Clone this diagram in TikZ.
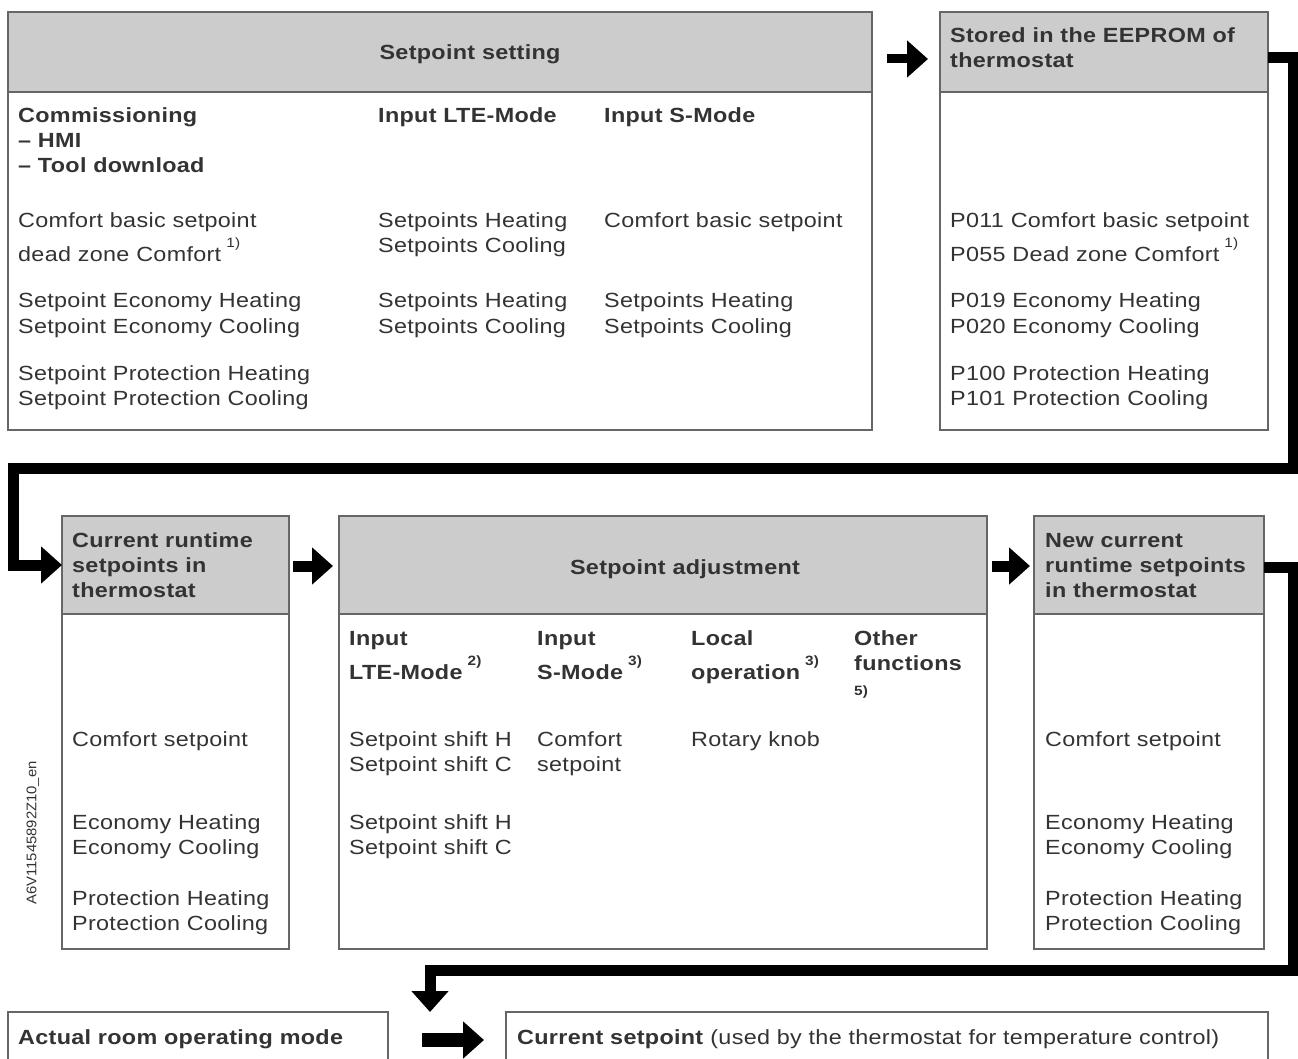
\documentclass[tikz,border=0pt]{standalone}
\usepackage{fontspec}
\setmainfont{Liberation Sans}[FakeStretch=1.14,LetterSpace=1.5]
\newfontfamily\idfont{Liberation Sans}[FakeStretch=1.06]
\usetikzlibrary{arrows.meta,calc}
\definecolor{txt}{HTML}{333333}
\definecolor{hdr}{HTML}{CCCCCC}
\definecolor{frame}{HTML}{666666}
\newcommand{\fn}[1]{\hspace{5pt}\raisebox{14pt}{\fontsize{13.5}{13.5}\selectfont #1}}
\tikzset{
  panel/.style={draw=frame,line width=1.4pt,fill=white,anchor=north west,inner sep=0pt,outer sep=0pt},
  headbox/.style={draw=frame,line width=1.4pt,fill=hdr,anchor=north west,inner sep=0pt,outer sep=0pt},
  txtn/.style={anchor=base west,inner sep=0pt,text=txt,font=\fontsize{20.5}{25}\selectfont},
  boldn/.style={anchor=base west,inner sep=0pt,text=txt,font=\fontsize{20.5}{25}\selectfont\bfseries},
  flow/.style={line width=11pt,draw=black,line join=miter,-{Triangle[width=36pt,length=21pt]}},
}
\begin{document}
\begin{tikzpicture}[x=1pt,y=-1pt]
\useasboundingbox (0,0) rectangle (1298,1059);
\clip (0,0) rectangle (1298,1059);
% ---------- boxes
\node[panel,minimum width=864pt,minimum height=418pt] (set) at (8,12) {};
\node[headbox,minimum width=864pt,minimum height=80pt] (seth) at (8,12) {};
\node[panel,minimum width=328pt,minimum height=418pt] (ee) at (940,12) {};
\node[headbox,minimum width=328pt,minimum height=80pt] (eeh) at (940,12) {};
\node[panel,minimum width=227pt,minimum height=433pt] (cr) at (62,516) {};
\node[headbox,minimum width=227pt,minimum height=98pt] (crh) at (62,516) {};
\node[panel,minimum width=648pt,minimum height=433pt] (adj) at (339,516) {};
\node[headbox,minimum width=648pt,minimum height=98pt] (adjh) at (339,516) {};
\node[panel,minimum width=230pt,minimum height=433pt] (nw) at (1034,516) {};
\node[headbox,minimum width=230pt,minimum height=98pt] (nwh) at (1034,516) {};
\node[panel,minimum width=380pt,minimum height=80pt] (act) at (8,1012) {};
\node[panel,minimum width=762pt,minimum height=80pt] (cur) at (506,1012) {};
% ---------- connectors
\coordinate (r1) at (1293,468);
\coordinate (l1) at (13,468);
\coordinate (r2) at (1293,970);
\coordinate (l2) at (430,970);
\coordinate (dn) at (430,1012);
\draw[flow,line width=9pt] ($(seth.east)+(15,7)$) -- ($(eeh.west)+(-12,7)$);
\draw[flow] ($(eeh.east)+(0,6)$) -| (r1) -- (l1) |- (crh.west);
\draw[flow] ($(crh.east)+(4,1)$) -- ($(adjh.west)+(-6,1)$);
\draw[flow] ($(adjh.east)+(5,1)$) -- ($(nwh.west)+(-4,1)$);
\draw[flow] ($(nwh.east)+(0,2)$) -| (r2) -- (l2) -- (dn);
\draw[flow,line width=14pt] ($(act.north east)+(34,28)$) -- ($(cur.north west)+(-22,28)$);
% ---------- box 1
\node[boldn,anchor=base] (t1) at (470,60) {Setpoint setting};
\node[boldn] (t2) at (18,123) {Commissioning};
\node[boldn] (t3) at (18,148) {– HMI};
\node[boldn] (t4) at (18,173) {– Tool download};
\node[boldn] (t5) at (378,123) {Input LTE-Mode};
\node[boldn] (t6) at (604,123) {Input S-Mode};
\node[txtn] (t7) at (18,228) {Comfort basic setpoint};
\node[txtn] (t8) at (18,262) {dead zone Comfort\fn{1)}};
\node[txtn] (t9) at (18,308) {Setpoint Economy Heating};
\node[txtn] (t10) at (18,333) {Setpoint Economy Cooling};
\node[txtn] (t11) at (18,380) {Setpoint Protection Heating};
\node[txtn] (t12) at (18,405) {Setpoint Protection Cooling};
\node[txtn] (t13) at (378,228) {Setpoints Heating};
\node[txtn] (t14) at (378,253) {Setpoints Cooling};
\node[txtn] (t15) at (378,308) {Setpoints Heating};
\node[txtn] (t16) at (378,333) {Setpoints Cooling};
\node[txtn] (t17) at (604,228) {Comfort basic setpoint};
\node[txtn] (t18) at (604,308) {Setpoints Heating};
\node[txtn] (t19) at (604,333) {Setpoints Cooling};
% ---------- box 2
\node[boldn] (e1) at (950,43) {Stored in the EEPROM of};
\node[boldn] (e2) at (950,68) {thermostat};
\node[txtn] (e3) at (950,228) {P011 Comfort basic setpoint};
\node[txtn] (e4) at (950,262) {P055 Dead zone Comfort\fn{1)}};
\node[txtn] (e5) at (950,308) {P019 Economy Heating};
\node[txtn] (e6) at (950,333) {P020 Economy Cooling};
\node[txtn] (e7) at (950,380) {P100 Protection Heating};
\node[txtn] (e8) at (950,405) {P101 Protection Cooling};
% ---------- box 3
\node[boldn] (c1) at (72,547) {Current runtime};
\node[boldn] (c2) at (72,572) {setpoints in};
\node[boldn] (c3) at (72,597) {thermostat};
\node[txtn] (c4) at (72,746) {Comfort setpoint};
\node[txtn] (c5) at (72,829) {Economy Heating};
\node[txtn] (c6) at (72,854) {Economy Cooling};
\node[txtn] (c7) at (72,905) {Protection Heating};
\node[txtn] (c8) at (72,930) {Protection Cooling};
% ---------- box 4
\node[boldn,anchor=base] (a0) at (685,574) {Setpoint adjustment};
\node[boldn] (a1) at (349,645) {Input};
\node[boldn] (a2) at (349,679) {LTE-Mode\fn{2)}};
\node[boldn] (a3) at (537,645) {Input};
\node[boldn] (a4) at (537,679) {S-Mode\fn{3)}};
\node[boldn] (a5) at (691,645) {Local};
\node[boldn] (a6) at (691,679) {operation\fn{3)}};
\node[boldn] (a7) at (854,645) {Other};
\node[boldn] (a8) at (854,670) {functions};
\node[boldn,font=\fontsize{13.5}{13.5}\selectfont\bfseries] (a9) at (854,695) {5)};
\node[txtn] (a10) at (349,746) {Setpoint shift H};
\node[txtn] (a11) at (349,771) {Setpoint shift C};
\node[txtn] (a12) at (349,829) {Setpoint shift H};
\node[txtn] (a13) at (349,854) {Setpoint shift C};
\node[txtn] (a14) at (537,746) {Comfort};
\node[txtn] (a15) at (537,771) {setpoint};
\node[txtn] (a16) at (691,746) {Rotary knob};
% ---------- box 5
\node[boldn] (n1) at (1045,547) {New current};
\node[boldn] (n2) at (1045,572) {runtime setpoints};
\node[boldn] (n3) at (1045,597) {in thermostat};
\node[txtn] (n4) at (1045,746) {Comfort setpoint};
\node[txtn] (n5) at (1045,829) {Economy Heating};
\node[txtn] (n6) at (1045,854) {Economy Cooling};
\node[txtn] (n7) at (1045,905) {Protection Heating};
\node[txtn] (n8) at (1045,930) {Protection Cooling};
% ---------- bottom
\node[boldn] (b1) at (18,1044) {Actual room operating mode};
\node[txtn] (b2) at (517,1044) {\textbf{Current setpoint} (used by the thermostat for temperature control)};
\node[rotate=90,inner sep=0pt,text=txt,font=\idfont\fontsize{14}{14}\selectfont] (id) at (33,833) {A6V11545892Z10\_en};
\end{tikzpicture}
\end{document}
